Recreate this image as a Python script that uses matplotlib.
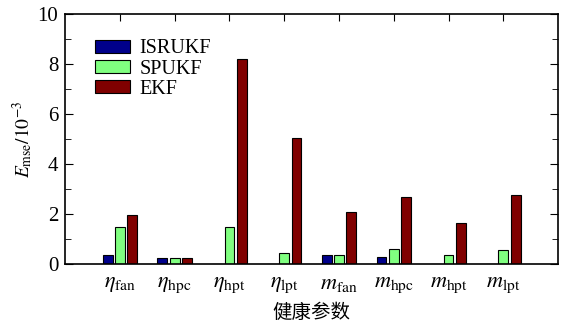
import numpy as np
import matplotlib.pyplot as plt
from matplotlib.ticker import MultipleLocator

plt.rcParams['font.family'] = ['Liberation Serif', 'Noto Sans CJK SC']
plt.rcParams['mathtext.fontset'] = 'stix'

# 健康参数
params = [r'$\eta_{\rm fan}$', r'$\eta_{\rm hpc}$', r'$\eta_{\rm hpt}$', r'$\eta_{\rm lpt}$',
          r'$m_{\rm fan}$', r'$m_{\rm hpc}$', r'$m_{\rm hpt}$', r'$m_{\rm lpt}$']
isrukf = [0.35, 0.25, 0.02, 0.02, 0.38, 0.28, 0.02, 0.02]
spukf = [1.50, 0.25, 1.50, 0.45, 0.38, 0.60, 0.38, 0.55]
ekf = [1.95, 0.25, 8.20, 5.05, 2.10, 2.70, 1.65, 2.75]

x = np.arange(1, len(params) + 1)
off = 0.225
w = 0.18

fig = plt.figure(figsize=(5.62, 3.24), dpi=100)
ax = fig.add_axes([0.116, 0.185, 0.877, 0.772])

ax.bar(x - off, isrukf, w, color='#00008B', edgecolor='black', linewidth=0.8, label='ISRUKF')
ax.bar(x, spukf, w, color='#80FF80', edgecolor='black', linewidth=0.8, label='SPUKF')
ax.bar(x + off, ekf, w, color='#800000', edgecolor='black', linewidth=0.8, label='EKF')

ax.set_xlim(0, 9)
ax.set_ylim(0, 10)
ax.set_xticks(x)
ax.set_xticklabels(params, fontsize=16)
ax.yaxis.set_major_locator(MultipleLocator(2))
ax.yaxis.set_minor_locator(MultipleLocator(1))
ax.tick_params(axis='y', which='both', direction='in', right=True, labelsize=15, pad=5)
ax.tick_params(axis='y', which='major', length=6)
ax.tick_params(axis='y', which='minor', length=4)
ax.tick_params(axis='x', direction='in', top=True, bottom=False, length=5, pad=8)
for s in ax.spines.values():
    s.set_linewidth(1.2)

ax.set_ylabel(r'$E_{\rm mse}/10^{-3}$', fontsize=14, labelpad=2)
ax.set_xlabel('健康参数', fontsize=14, family=['Noto Sans CJK SC'], labelpad=5)

ax.legend(loc='upper left', frameon=False, fontsize=14.5, handlelength=1.7, handleheight=0.6,
          labelspacing=0.05, bbox_to_anchor=(0.045, 0.93), borderaxespad=0, handletextpad=0.5)

fig.savefig('out.png', dpi=100)
